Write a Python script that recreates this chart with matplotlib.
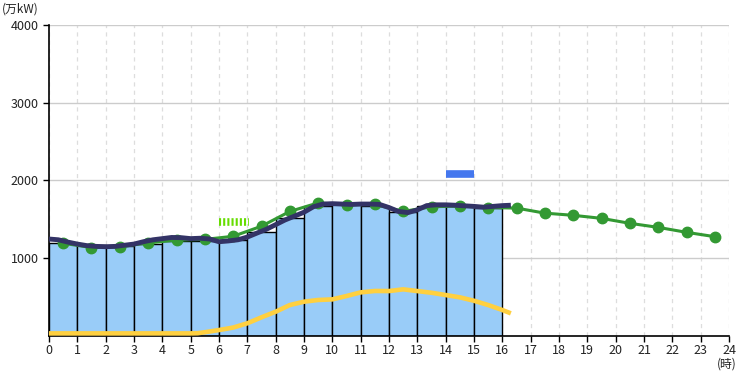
import matplotlib
matplotlib.use("Agg")
import matplotlib.pyplot as plt
import numpy as np

plt.rcParams['font.family'] = ['Noto Sans CJK JP', 'DejaVu Sans']
plt.rcParams['lines.scale_dashes'] = False

# Hourly actual demand bars (hour start 0..15)
bar_hours = list(range(16))
bar_values = [1200, 1170, 1150, 1175, 1215, 1225, 1230, 1335, 1515, 1670,
              1690, 1675, 1590, 1670, 1665, 1650]

# Forecast (green) at half hours
fc_hours = [h + 0.5 for h in range(24)]
fc_values = [1190, 1135, 1145, 1195, 1230, 1240, 1280, 1410, 1600, 1710,
             1685, 1690, 1600, 1660, 1670, 1650, 1643, 1578, 1550, 1511,
             1447, 1395, 1331, 1275]

# Real-time demand (navy)
rt_hours = [0, 0.33, 0.67, 1.0, 1.33, 1.67, 2.0, 2.33, 2.67, 3.0, 3.33, 3.67,
            4.0, 4.33, 4.67, 5.0, 5.33, 5.67, 6.0, 6.33, 6.67, 7.0, 7.33, 7.67,
            8.0, 8.33, 8.67, 9.0, 9.33, 9.67, 10.0, 10.33, 10.67, 11.0, 11.33,
            11.67, 12.0, 12.33, 12.67, 13.0, 13.33, 13.67, 14.0, 14.33, 14.67,
            15.0, 15.33, 15.67, 16.0, 16.3]
rt_values = [1245, 1235, 1205, 1180, 1160, 1150, 1146, 1150, 1165, 1180, 1210,
             1235, 1250, 1265, 1262, 1250, 1255, 1245, 1210, 1220, 1235, 1270,
             1320, 1370, 1430, 1490, 1540, 1590, 1660, 1695, 1700, 1695, 1690,
             1695, 1695, 1690, 1650, 1600, 1585, 1620, 1675, 1685, 1685, 1680,
             1672, 1665, 1655, 1665, 1675, 1680]

# Solar (yellow)
pv_hours = [0, 1, 2, 3, 4, 5, 5.25, 5.5, 6, 6.5, 7, 7.5, 8, 8.5, 9, 9.5, 10,
            10.5, 11, 11.5, 12, 12.5, 13, 13.5, 14, 14.5, 15, 15.5, 16, 16.3]
pv_values = [30, 30, 30, 30, 30, 30, 32, 45, 73, 105, 160, 237, 309, 395, 438,
             460, 468, 511, 558, 576, 575, 597, 575, 553, 524, 494, 450, 395,
             331, 288]

# Markers: forecast peak (lime) and supply (blue)
peak_fc_x = [6.0, 7.07]
peak_fc_y = 1463
supply_x = [14.0, 15.0]
supply_y = 2077

fig = plt.figure(figsize=(7.39, 3.71), dpi=100)
ax = fig.add_axes([0.0663, 0.0951, 0.9202, 0.8375])

ax.bar(bar_hours, bar_values, width=1.0, align='edge', color='#99ccf8',
       edgecolor='black', linewidth=1.0, zorder=2)
ax.plot(pv_hours, pv_values, color='#ffd040', linewidth=3.3, zorder=3,
        solid_capstyle='butt')
ax.plot(fc_hours, fc_values, color='#339933', linewidth=2.2, marker='o',
        markersize=7.5, zorder=4)
ax.plot(rt_hours, rt_values, color='#333366', linewidth=3.5, zorder=5,
        solid_capstyle='butt')
ax.plot(peak_fc_x, [peak_fc_y, peak_fc_y], color='#66dd00', linewidth=5.5,
        dashes=(1.5, 1.5), zorder=6, dash_capstyle='butt')
ax.plot(supply_x, [supply_y, supply_y], color='#4477ee', linewidth=5.5,
        zorder=6, solid_capstyle='butt')

ax.set_xlim(0, 24)
ax.set_ylim(0, 4000)
ax.set_xticks(range(25))
ax.set_xticklabels([str(i) for i in range(25)])
ax.set_yticks([1000, 2000, 3000, 4000])
ax.set_yticklabels(['1000', '2000', '3000', '4000'])
ax.tick_params(axis='both', labelsize=9, length=4, width=1, color='black',
               labelcolor='#222222', direction='out')
ax.tick_params(axis='x', pad=2)

ax.grid(axis='y', color='#cccccc', linewidth=1.0, linestyle='-', zorder=0)
ax.grid(axis='x', color='#dddddd', linewidth=0.9, linestyle=(0, (3, 3)), zorder=0)
ax.set_axisbelow(True)

for s in ['top', 'right']:
    ax.spines[s].set_visible(False)
ax.spines['left'].set_color('black')
ax.spines['bottom'].set_color('black')
ax.spines['left'].set_linewidth(1.2)
ax.spines['bottom'].set_linewidth(1.2)

fig.text(0.003, 0.975, '(万kW)', fontsize=8.5, ha='left', va='center', color='#222222')
fig.text(0.997, 0.02, '(時)', fontsize=8.5, ha='right', va='center', color='#222222')

fig.savefig('out.png', dpi=100)
